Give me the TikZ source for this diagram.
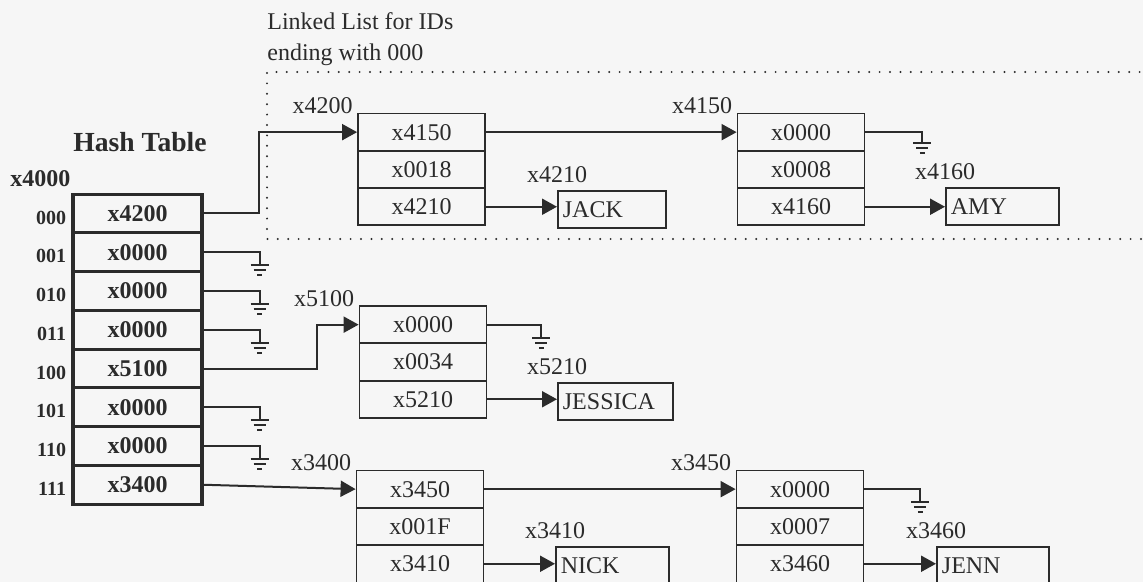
\documentclass[tikz,border=0pt]{standalone}
\usepackage{fontspec}
\setmainfont{Liberation Serif}
\usetikzlibrary{arrows.meta,calc}
\definecolor{ink}{HTML}{2B2B2B}
\definecolor{paper}{HTML}{F6F6F6}
\begin{document}
\begin{tikzpicture}[x=0.5pt,y=-0.5pt,
  hcell/.style={draw=ink, line width=1.6pt, minimum width=64.5pt, minimum height=19.375pt, inner sep=0pt, text=ink, font=\fontsize{12}{14}\selectfont\bfseries},
  cell/.style={draw=ink, line width=0.9pt, minimum width=63.5pt, minimum height=18.65pt, inner sep=0pt, text=ink, font=\fontsize{12}{14}\selectfont},
  databox/.style={draw=ink, line width=0.9pt, minimum height=18.5pt, inner ysep=0pt, inner xsep=2.5pt, anchor=west, align=left, text=ink, font=\fontsize{12}{14}\selectfont},
  ptr/.style={draw=ink, line width=1pt, -{Triangle[length=7.5pt,width=8pt]}},
  wire/.style={draw=ink, line width=1pt},
  lbl/.style={inner sep=0pt, text=ink, font=\fontsize{12}{14}\selectfont},
  rowlbl/.style={inner sep=0pt, anchor=east, text=ink, font=\fontsize{10}{12}\selectfont\bfseries},
  gnd/.pic={\draw[ink, line width=1pt] (-9,0)--(9,0) (-6,5)--(6,5) (-2.5,10)--(2.5,10);},
  dots/.style={draw=ink, line width=1.1pt, dash pattern=on 0pt off 5.2pt, line cap=round}
]
\useasboundingbox (0,0) rectangle (1143,582);
\clip (0,0) rectangle (1143,582);
\fill[paper] (0,0) rectangle (1143,582);

% titles
\node[inner sep=0pt, anchor=base, text=ink, font=\fontsize{13.8}{16}\selectfont\bfseries] (title) at (140,152) {Hash Table};
\node[inner sep=0pt, anchor=base west, text=ink, font=\fontsize{12}{14}\selectfont\bfseries] (base) at (10,187) {x4000};
\node[lbl, anchor=base west] (ll1) at (267,30) {Linked List for IDs};
\node[lbl, anchor=base west] (ll2) at (267,61) {ending with 000};

% dotted region
\draw[dots] (1150,72) -- (267,72) -- (267,239) -- (1150,239);

% hash table
\node[hcell] (h0) at (137.5,213.5) {x4200};
\node[hcell] (h1) at (137.5,252.25) {x0000};
\node[hcell] (h2) at (137.5,291) {x0000};
\node[hcell] (h3) at (137.5,329.75) {x0000};
\node[hcell] (h4) at (137.5,368.5) {x5100};
\node[hcell] (h5) at (137.5,407.25) {x0000};
\node[hcell] (h6) at (137.5,446) {x0000};
\node[hcell] (h7) at (137.5,484.75) {x3400};
\node[rowlbl] (r0) at ($(h0.west)+(-5,4)$) {000};
\node[rowlbl] (r1) at ($(h1.west)+(-5,4)$) {001};
\node[rowlbl] (r2) at ($(h2.west)+(-5,4)$) {010};
\node[rowlbl] (r3) at ($(h3.west)+(-5,4)$) {011};
\node[rowlbl] (r4) at ($(h4.west)+(-5,4)$) {100};
\node[rowlbl] (r5) at ($(h5.west)+(-5,4)$) {101};
\node[rowlbl] (r6) at ($(h6.west)+(-5,4)$) {110};
\node[rowlbl] (r7) at ($(h7.west)+(-5,4)$) {111};

% list node A (x4200)
\node[cell] (a1) at (421.5,132.15) {x4150};
\node[cell] (a2) at (421.5,169.45) {x0018};
\node[cell] (a3) at (421.5,206.75) {x4210};
% list node B (x4150)
\node[cell] (b1) at (801,132.15) {x0000};
\node[cell] (b2) at (801,169.45) {x0008};
\node[cell] (b3) at (801,206.75) {x4160};
% list node C (x5100)
\node[cell] (c1) at (423,324.65) {x0000};
\node[cell] (c2) at (423,361.95) {x0034};
\node[cell] (c3) at (423,399.25) {x5210};
% list node D (x3400)
\node[cell] (d1) at (420,489.15) {x3450};
\node[cell] (d2) at (420,526.45) {x001F};
\node[cell] (d3) at (420,563.75) {x3410};
% list node E (x3450)
\node[cell] (e1) at (800,489.15) {x0000};
\node[cell] (e2) at (800,526.45) {x0007};
\node[cell] (e3) at (800,563.75) {x3460};

% data boxes
\node[databox, text width=49pt] (jack) at (557,209.5) {JACK};
\node[databox, text width=51.5pt] (amy) at (945,206.5) {AMY};
\node[databox, text width=52.5pt] (jess) at (557,401.5) {JESSICA};
\node[databox, text width=51.5pt] (nick) at (555,565.5) {NICK};
\node[databox, text width=51pt] (jenn) at (936,565.5) {JENN};

% address labels of list nodes
\node[lbl, anchor=base east] (la) at ($(a1.north west)+(-4,1)$) {x4200};
\node[lbl, anchor=base east] (lb) at ($(b1.north west)+(-4,1)$) {x4150};
\node[lbl, anchor=base east] (lc) at ($(c1.north west)+(-4,1)$) {x5100};
\node[lbl, anchor=base east] (ld) at ($(d1.north west)+(-4,1)$) {x3400};
\node[lbl, anchor=base east] (le) at ($(e1.north west)+(-4,1)$) {x3450};
% address labels of data
\node[lbl, anchor=base] (ljack) at ($(jack.north west)+(0,-8)$) {x4210};
\node[lbl, anchor=base] (lamy) at ($(amy.north west)+(0,-8)$) {x4160};
\node[lbl, anchor=base] (ljess) at ($(jess.north west)+(0,-8)$) {x5210};
\node[lbl, anchor=base] (lnick) at ($(nick.north west)+(0,-8)$) {x3410};
\node[lbl, anchor=base] (ljenn) at ($(jenn.north west)+(0,-8)$) {x3460};

% pointers from hash table
\draw[ptr] (h0.east) -- ++(55,0) |- (a1.west);
\draw[ptr] (h4.east) -- ++(113,0) |- (c1.west);
\draw[ptr] (h7.east) -- (d1.west);
% null pointers of the hash table
\foreach \r in {1,2,3,5,6}{
  \draw[wire] (h\r.east) -- ++(56,0) -- ++(0,13) coordinate (g\r);
  \pic at (g\r) {gnd};
}
% next pointers
\draw[ptr] (a1.east) -- (b1.west);
\draw[ptr] (d1.east) -- (e1.west);
\draw[wire] (b1.east) -- ++(57,0) -- ++(0,11) coordinate (gb);
\pic at (gb) {gnd};
\draw[wire] (c1.east) -- ++(54,0) -- ++(0,13) coordinate (gc);
\pic at (gc) {gnd};
\draw[wire] (e1.east) -- ++(56,0) -- ++(0,13) coordinate (ge);
\pic at (ge) {gnd};
% data pointers
\draw[ptr] (a3.east) -- (a3.east -| jack.west);
\draw[ptr] (b3.east) -- (b3.east -| amy.west);
\draw[ptr] (c3.east) -- (c3.east -| jess.west);
\draw[ptr] (d3.east) -- (d3.east -| nick.west);
\draw[ptr] (e3.east) -- (e3.east -| jenn.west);
\end{tikzpicture}
\end{document}
